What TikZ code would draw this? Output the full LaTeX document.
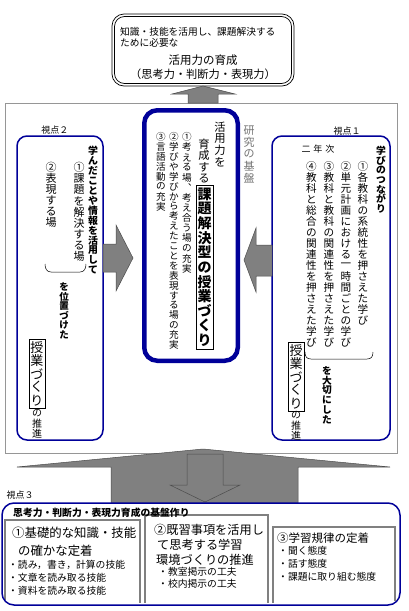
\documentclass[tikz,border=0pt]{standalone}
\usepackage{fontspec}
\newfontfamily\jp{Noto Sans CJK JP}
\definecolor{navy}{RGB}{0,0,153}
\definecolor{framegray}{RGB}{150,150,150}
\definecolor{arrowgray}{RGB}{128,128,128}
\makeatletter
\newdimen\tate@pitch
\def\tate@stop{\tate@stop}
\newcommand\tate[2]{\tate@pitch=#1pt\relax\vbox{\offinterlineskip\tate@loop#2\tate@stop}}
\def\tate@loop#1{\ifx\tate@stop#1\else\tate@one{#1}\expandafter\tate@loop\fi}
\def\tate@one#1{\hbox to 1em{\hss\vbox to \tate@pitch{\vss\hbox{#1}\vss}\hss}}
\makeatother
\begin{document}
\begin{tikzpicture}[x=1pt,y=-1pt,
  vcol/.style={inner sep=0pt, anchor=north, font={\jp\fontsize{#1}{#1}\selectfont}},
  vbold/.style={inner sep=0pt, anchor=north, font={\jp\bfseries\fontsize{#1}{#1}\selectfont}},
  htext/.style={inner sep=0pt, anchor=west, font={\jp\fontsize{#1}{#1}\selectfont}},
  hbold/.style={inner sep=0pt, anchor=west, font={\jp\bfseries\fontsize{#1}{#1}\selectfont}},
  hcent/.style={inner sep=0pt, anchor=center, font={\jp\fontsize{#1}{#1}\selectfont}},
  wordbox/.style={draw, line width=0.6pt, inner sep=1.5pt},
  sidebox/.style={draw=navy, line width=1.5pt, rounded corners=10pt},
  blockarrow/.style={fill=arrowgray, draw=black!70, line width=0.5pt},
  subbox/.style={draw=arrowgray, line width=1.2pt},
  brace/.style={draw, line width=0.5pt}
]
\useasboundingbox (0,0) rectangle (409,611);
\fill[white] (0,0) rectangle (409,611);

% ---------- outer frame ----------
\draw[draw=framegray, line width=0.9pt] (5,103) rectangle (397,453);

% ---------- top goal box ----------
\draw[line width=0.7pt, rounded corners=12pt] (112,14) rectangle (294,86);
\draw[line width=0.7pt, rounded corners=10pt] (114.5,16.5) rectangle (291.5,83.5);
\node[htext=9.7] (g1) at (120,32) {知識・技能を活用し、課題解決する};
\node[htext=9.7] (g2) at (120,43) {ために必要な};
\node[hcent=11.5] (g3) at (203,60) {活用力の育成};
\node[hcent=11.2] (g4) at (203,74) {（思考力・判断力・表現力）};

% up arrow
\draw[blockarrow] (203,86) -- (235,94) -- (218,94) -- (218,103) -- (188,103) -- (188,94) -- (172,94) -- cycle;

% ---------- centre box ----------
\draw[draw=navy, line width=4.5pt, rounded corners=13pt] (144.25,110.25) rectangle (237.75,360.75);
\node[vcol=11.3] (c0) at (220,121) {\tate{11.6}{活用力を}};
\node[vcol=11.3] (c0b) at (204,138) {\tate{11.5}{育成する}};
\node[vbold=14, wordbox] (kadai) at (204.5,185) {\tate{14.6}{課題解決型の授業づくり}};
\node[vcol=9.6] (c1) at (187,132) {\tate{10.1}{①考える場︑考え合う場の充実}};
\node[vcol=9.6] (c2) at (174,132) {\tate{9.9}{②学びや学びから考えたことを表現する場の充実}};
\node[vcol=9.6] (c3) at (161,132) {\tate{9.9}{③言語活動の充実}};
\node[vcol=11, text=black!55] (kenkyu) at (249,124) {\tate{12}{研究の基盤}};

% ---------- left box (viewpoint 2) ----------
\draw[sidebox] (17,136) rectangle (103,440);
\node[hcent=9] (v2) at (55,130) {視点２};
\node[vbold=9.9] (l1) at (93,146) {\tate{9.9}{学んだことや情報を活用して}};
\node[vcol=11] (l2) at (79,162) {\tate{11.1}{①課題を解決する場}};
\node[vcol=11] (l3) at (51,162) {\tate{11}{②表現する場}};
\draw[brace] (45,264) .. controls (45,269) and (47,272) .. (51,272) -- (80,272) .. controls (84,272) and (86,269) .. (86,264);
\node[vbold=9.5] (l4) at (64,282) {\tate{9.6}{を位置づけた}};
\node[vcol=13, wordbox] (l5) at (37,339) {\tate{13.2}{授業づくり}};
\node[vcol=10] (l6) at (37,408) {\tate{10}{の推進}};

% right-pointing arrow
\draw[blockarrow] (133,258) -- (116,291) -- (116,272) -- (103,272) -- (103,244) -- (116,244) -- (116,225) -- cycle;

% ---------- right box (viewpoint 1) ----------
\draw[sidebox] (272,136) rectangle (390,440);
\node[hcent=9] (v1) at (347,131) {視点１};
\node[vbold=9.8] (r0) at (381,146) {\tate{9.6}{学びのつながり}};
\node[hcent=9] (nen) at (318,149) {二\hspace{3pt}年\hspace{3pt}次};
\node[vcol=10.6] (r1) at (363,161) {\tate{11}{①各教科の系統性を押さえた学び}};
\node[vcol=10.6] (r2) at (346,161) {\tate{11}{②単元計画における一時間ごとの学び}};
\node[vcol=10.6] (r3) at (329,161) {\tate{11}{③教科と教科の関連性を押さえた学び}};
\node[vcol=10.6] (r4) at (311.5,161) {\tate{11}{④教科と総合の関連性を押さえた学び}};
\draw[brace] (305,352) .. controls (305,357) and (307,359) .. (311,359) -- (367,359) .. controls (371,359) and (373,357) .. (373,352);
\node[vbold=9.7] (r5) at (327,366) {\tate{9.7}{を大切にした}};
\node[vcol=13, wordbox] (r6) at (296,342) {\tate{13.2}{授業づくり}};
\node[vcol=10] (r7) at (296,410) {\tate{10}{の推進}};

% left-pointing arrow
\draw[blockarrow] (244,260) -- (256,228) -- (256,245) -- (272,245) -- (272,276) -- (256,276) -- (256,292) -- cycle;

% ---------- big bottom arrow ----------
\draw[blockarrow] (203,449) -- (390,467) -- (298,467) -- (298,503) -- (111,503) -- (111,467) -- (17,467) -- cycle;
\draw[blockarrow] (187,454) -- (223,454) -- (223,485) -- (240,485) -- (205,502) -- (170,485) -- (187,485) -- cycle;

% ---------- bottom (viewpoint 3) ----------
\node[hcent=9] (v3) at (20,495) {視点３};
\draw[subbox] (5,600) -- (5,520) -- (140,520) -- (140,603);
\draw[subbox] (145,603) -- (145,515) -- (268,515) -- (268,603);
\draw[subbox] (273,603) -- (273,527) -- (395,527) -- (395,601);
\draw[draw=navy, line width=1.5pt, rounded corners=12pt] (2,503) rectangle (400,605);
\node[hbold=9.8] (t3) at (13,513) {思考力・判断力・表現力育成の基盤作り};

\node[htext=12.4] (a1) at (12,533) {①基礎的な知識・技能};
\node[htext=12.4] (a2) at (18,551) {の確かな定着};
\node[htext=9.8] (a3) at (8,565) {・読み，書き，計算の技能};
\node[htext=9.8] (a4) at (8,578) {・文章を読み取る技能};
\node[htext=9.8] (a5) at (8,591) {・資料を読み取る技能};

\node[htext=12.2] (b1) at (154,530) {②既習事項を活用し};
\node[htext=12.2] (b2) at (157,545) {て思考する学習};
\node[htext=12.2] (b3) at (156,560) {環境づくりの推進};
\node[htext=9.8] (b4) at (158,572) {・教室掲示の工夫};
\node[htext=9.8] (b5) at (158,584) {・校内掲示の工夫};

\node[htext=11.5] (d1) at (277,538) {③学習規律の定着};
\node[htext=9.8] (d2) at (278,551) {・聞く態度};
\node[htext=9.8] (d3) at (278,564) {・話す態度};
\node[htext=9.8] (d4) at (278,577) {・課題に取り組む態度};
\end{tikzpicture}
\end{document}
